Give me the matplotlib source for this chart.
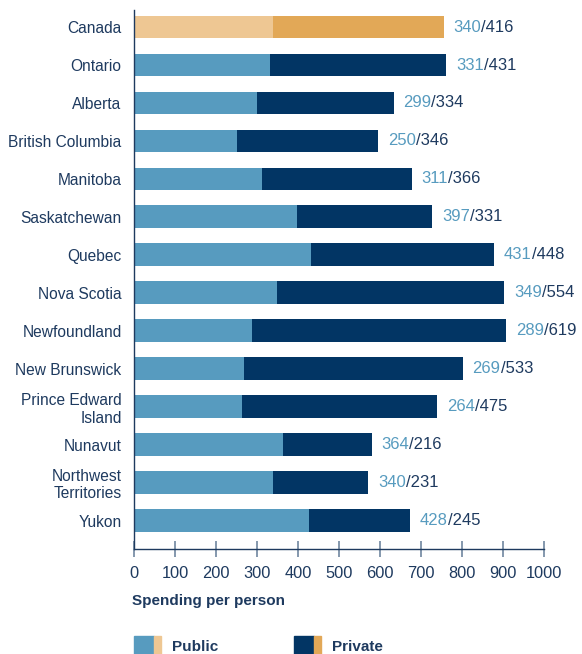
import matplotlib
matplotlib.use("Agg")
import matplotlib.pyplot as plt
from matplotlib.patches import Rectangle

plt.rcParams["font.family"] = ["Liberation Sans", "DejaVu Sans"]

# data
regions = [
    "Canada",
    "Ontario",
    "Alberta",
    "British Columbia",
    "Manitoba",
    "Saskatchewan",
    "Quebec",
    "Nova Scotia",
    "Newfoundland",
    "New Brunswick",
    "Prince Edward\nIsland",
    "Nunavut",
    "Northwest\nTerritories",
    "Yukon",
]
public = [340, 331, 299, 250, 311, 397, 431, 349, 289, 269, 264, 364, 340, 428]
private = [416, 431, 334, 346, 366, 331, 448, 554, 619, 533, 475, 216, 231, 245]
xticks = [0, 100, 200, 300, 400, 500, 600, 700, 800, 900, 1000]

# colours
pub_blue = "#579bbf"
priv_navy = "#023564"
can_light = "#eec793"
can_dark = "#e2a857"
text_navy = "#1e3a5f"
tick_grey = "#6f86a0"

fig = plt.figure(figsize=(5.82, 6.54), dpi=100)
ax = fig.add_axes([134 / 582, 105 / 654, 410 / 582, 539 / 654])

ypos = list(range(len(regions)))
pub_colors = [can_light] + [pub_blue] * (len(regions) - 1)
priv_colors = [can_dark] + [priv_navy] * (len(regions) - 1)

ax.barh(ypos, public, height=0.6, color=pub_colors)
ax.barh(ypos, private, left=public, height=0.6, color=priv_colors)

# value labels: public in light blue, "/private" in navy
for y, p, q in zip(ypos, public, private):
    t1 = ax.annotate(str(p), xy=(p + q, y), xytext=(7, 0), textcoords="offset points",
                     va="center", ha="left", fontsize=12, color=pub_blue)
    ax.annotate("/" + str(q), xy=(1, 0), xycoords=t1, va="bottom", ha="left",
                fontsize=12, color=text_navy)

ax.set_xlim(0, 1000)
ax.set_ylim(13.75, -0.45)
ax.set_xticks(xticks)
ax.set_yticks(ypos)
ax.set_yticklabels(regions, ha="right", multialignment="right")

for s in ["top", "right"]:
    ax.spines[s].set_visible(False)
ax.spines["left"].set_color(text_navy)
ax.spines["bottom"].set_color(text_navy)
ax.spines["left"].set_linewidth(1.0)
ax.spines["bottom"].set_linewidth(1.0)

ax.tick_params(axis="y", length=0, pad=9, labelsize=11.2, labelcolor=text_navy)
ax.tick_params(axis="x", direction="inout", length=12, width=1.2, color=tick_grey,
               pad=6, labelsize=11.8, labelcolor=text_navy)

fig.text(132 / 582, 1 - 601 / 654, "Spending per person", fontsize=11,
         fontweight="bold", color=text_navy, va="center", ha="left")

# legend drawn by hand: split swatches like the reference
legend_items = [("Public", pub_blue, can_light, 134), ("Private", priv_navy, can_dark, 294)]
for label, c1, c2, x0 in legend_items:
    fig.add_artist(Rectangle((x0 / 582, 0), 20 / 582, 18 / 654, color=c1,
                             transform=fig.transFigure))
    fig.add_artist(Rectangle(((x0 + 20) / 582, 0), 7 / 582, 18 / 654, color=c2,
                             transform=fig.transFigure))
    fig.text((x0 + 38) / 582, 1 - 647 / 654, label, fontsize=11, fontweight="bold",
             color=text_navy, va="center", ha="left")

fig.savefig("out.png", dpi=100)
